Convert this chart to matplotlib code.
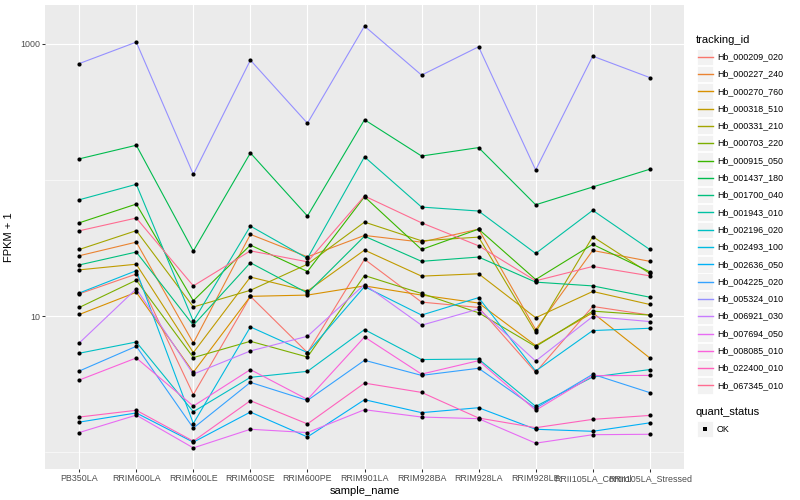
import numpy as np
import matplotlib
matplotlib.use("Agg")
import matplotlib.pyplot as plt
from matplotlib.patches import Rectangle
from matplotlib.lines import Line2D

plt.rcParams['font.family'] = ['Liberation Sans', 'DejaVu Sans']

samples = ["PB350LA", "RRIM600LA", "RRIM600LE", "RRIM600SE", "RRIM600PE",
           "RRIM901LA", "RRIM928BA", "RRIM928LA", "RRIM928LE",
           "RRII105LA_Control", "RRII105LA_Stressed"]

tracking_ids = ["Hb_000209_020", "Hb_000227_240", "Hb_000270_760", "Hb_000318_510",
                "Hb_000331_210", "Hb_000703_220", "Hb_000915_050", "Hb_001437_180",
                "Hb_001700_040", "Hb_001943_010", "Hb_002196_020", "Hb_002493_100",
                "Hb_002636_050", "Hb_004225_020", "Hb_005324_010", "Hb_006921_030",
                "Hb_007694_050", "Hb_008085_010", "Hb_022400_010", "Hb_067345_010"]

# FPKM + 1 values, one list per tracking_id, in the order of `samples`
Hb_000209_020 = [14.6, 20.4, 2.66, 14.0, 5.41, 26.2, 12.7, 11.6, 3.88, 11.8, 10.2]
Hb_000227_240 = [27.8, 35.0, 6.36, 39.9, 27.3, 39.2, 35.0, 43.6, 7.98, 30.4, 25.3]
Hb_000270_760 = [10.3, 15.0, 3.88, 14.0, 14.3, 16.7, 14.3, 12.5, 6.09, 10.6, 4.94]
Hb_000318_510 = [21.9, 24.1, 5.41, 19.4, 15.3, 30.6, 19.7, 20.5, 9.75, 15.2, 12.2]
Hb_000331_210 = [30.9, 42.5, 11.7, 15.5, 24.1, 49.1, 35.8, 38.1, 7.63, 38.4, 20.6]
Hb_000703_220 = [11.6, 18.4, 4.97, 6.55, 5.02, 19.9, 14.7, 10.6, 5.99, 10.9, 10.2]
Hb_000915_050 = [48.5, 66.6, 13.0, 33.3, 21.3, 75.4, 30.9, 43.6, 18.6, 33.7, 21.2]
Hb_001437_180 = [143, 180, 30.1, 158, 54.4, 277, 150, 173, 65.8, 88.9, 120]
Hb_001700_040 = [23.8, 29.6, 8.59, 24.7, 14.8, 38.7, 25.3, 27.2, 17.8, 16.7, 13.8]
Hb_001943_010 = [71.6, 93.0, 9.19, 45.9, 26.6, 148, 63.3, 59.2, 28.9, 59.9, 30.9]
Hb_002196_020 = [5.35, 6.47, 1.99, 3.56, 3.94, 7.98, 4.81, 4.85, 2.18, 3.58, 4.06]
Hb_002493_100 = [14.8, 21.6, 1.63, 8.35, 5.41, 16.5, 10.2, 13.7, 3.96, 7.85, 8.16]
Hb_002636_050 = [1.67, 1.95, 1.19, 1.98, 1.30, 2.44, 1.96, 2.13, 1.48, 1.43, 1.65]
Hb_004225_020 = [3.96, 6.02, 1.51, 3.27, 2.41, 4.75, 3.68, 4.15, 2.11, 3.75, 2.75]
Hb_005324_010 = [716, 1029, 110, 759, 261, 1349, 589, 951, 118.5, 812, 565]
Hb_006921_030 = [6.36, 15.9, 3.76, 5.56, 7.13, 17.1, 8.59, 11.3, 4.69, 9.95, 9.14]
Hb_007694_050 = [1.40, 1.88, 1.08, 1.48, 1.40, 2.06, 1.82, 1.77, 1.17, 1.35, 1.36]
Hb_008085_010 = [3.40, 4.94, 2.19, 4.06, 2.45, 7.04, 3.76, 4.72, 2.04, 3.66, 3.68]
Hb_022400_010 = [1.82, 2.04, 1.21, 2.40, 1.62, 3.23, 2.76, 1.79, 1.52, 1.75, 1.87]
Hb_067345_010 = [42.4, 52.6, 16.7, 30.2, 25.1, 76.3, 48.5, 32.9, 18.2, 23.2, 19.8]

series = [Hb_000209_020, Hb_000227_240, Hb_000270_760, Hb_000318_510, Hb_000331_210,
          Hb_000703_220, Hb_000915_050, Hb_001437_180, Hb_001700_040, Hb_001943_010,
          Hb_002196_020, Hb_002493_100, Hb_002636_050, Hb_004225_020, Hb_005324_010,
          Hb_006921_030, Hb_007694_050, Hb_008085_010, Hb_022400_010, Hb_067345_010]

quant_status = ["OK"]

# ggplot2 hue palette for 20 levels
colors = ["#F8766D", "#EA8331", "#D89000", "#C09B00", "#A3A500", "#7CAE00", "#39B600",
          "#00BB4E", "#00BF7D", "#00C1A3", "#00BFC4", "#00BAE0", "#00B0F6", "#35A2FF",
          "#9590FF", "#C77CFF", "#E76BF3", "#FA62DB", "#FF62BC", "#FF6C91"]

W, H = 800, 500
fig = plt.figure(figsize=(8, 5), dpi=100)
pl, pr, pt, pb = 45, 684, 5, 469
ax = fig.add_axes([pl / W, 1 - pb / H, (pr - pl) / W, (pb - pt) / H])
ax.set_facecolor("#EBEBEB")
for s in ax.spines.values():
    s.set_visible(False)

x = np.arange(len(samples))
for vals, c in zip(series, colors):
    ax.plot(x, vals, color=c, lw=0.8, zorder=3, solid_capstyle='butt')
for vals in series:
    ax.plot(x, vals, ls='none', marker='o', ms=3.0, mew=0, color='black', zorder=4)

ax.set_yscale('log')
allv = np.log10(np.concatenate([np.asarray(v, float) for v in series]))
lo, hi = allv.min(), allv.max()
pad = 0.05 * (hi - lo)
ax.set_ylim(10 ** (lo - pad), 10 ** (hi + pad))
ax.set_xlim(-0.6, len(samples) - 1 + 0.6)

ax.set_yticks([10, 1000])
ax.set_yticklabels(["10", "1000"])
ax.set_yticks([1, 100], minor=True)
ax.set_yticklabels([], minor=True)
ax.set_xticks(x)
ax.set_xticklabels(samples)
ax.tick_params(which='major', length=2.0, width=0.75, color='#333333',
               labelsize=6.4, labelcolor='#4D4D4D', pad=1.6)
ax.tick_params(which='minor', length=0)
ax.grid(which='major', color='white', lw=0.8, zorder=1)
ax.grid(which='minor', axis='y', color='white', lw=0.4, zorder=1)
ax.set_axisbelow(True)

ax.set_xlabel("sample_name", fontsize=8, labelpad=2)
ax.set_ylabel("FPKM + 1", fontsize=8, labelpad=4)

# Legends drawn in pixel coordinates on an overlay
ov = fig.add_axes([0, 0, 1, 1], facecolor='none')
ov.set_xlim(0, W)
ov.set_ylim(H, 0)
ov.axis('off')

ov.text(696, 40, "tracking_id", fontsize=8, va='center', ha='left')
y0, dy = 56.7, 17.3
for i, (lab, c) in enumerate(zip(tracking_ids, colors)):
    yc = y0 + i * dy
    ov.add_patch(Rectangle((696.5, yc - 8.2), 16.4, 16.4, facecolor='#F2F2F2',
                           edgecolor='white', lw=0.6, zorder=1))
    ov.add_line(Line2D([698, 713], [yc, yc], color=c, lw=1.0, zorder=5))
    ov.text(717, yc, lab, fontsize=6.4, va='center', ha='left')

ov.text(696, 412, "quant_status", fontsize=8, va='center', ha='left')
for j, lab in enumerate(quant_status):
    yc = 429 + j * dy
    ov.add_patch(Rectangle((696.5, yc - 8.2), 16.4, 16.4, facecolor='#F2F2F2',
                           edgecolor='white', lw=0.6, zorder=1))
    ov.add_line(Line2D([704.7], [yc], ls='none', marker='s', ms=2.6, mew=0,
                       color='black', zorder=5))
    ov.text(717, yc, lab, fontsize=6.4, va='center', ha='left')

fig.savefig("out.png", dpi=100)
